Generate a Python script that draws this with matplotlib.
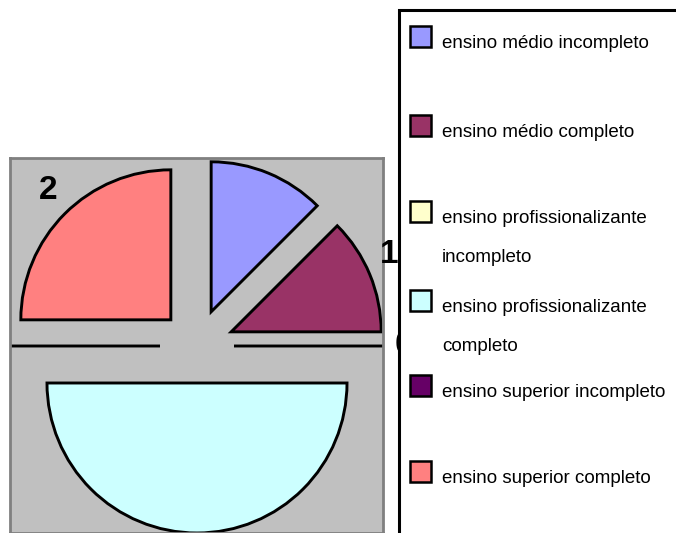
import numpy as np
import matplotlib.pyplot as plt
from matplotlib.patches import Rectangle
from matplotlib.transforms import Bbox, TransformedBbox

# data
categories = ['ensino médio incompleto',
              'ensino médio completo',
              'ensino profissionalizante\nincompleto',
              'ensino profissionalizante\ncompleto',
              'ensino superior incompleto',
              'ensino superior completo']
values = [1, 1, 0, 4, 0, 2]
colors = ['#9999FF', '#993366', '#FFFFCC', '#CCFFFF', '#660066', '#FF8080']

W, H = 676, 533
fig = plt.figure(figsize=(W / 100, H / 100), dpi=100)

# gray plot area, 1 data unit = 1 pixel
ax = fig.add_axes([10 / W, 0, 373 / W, 375 / H])
ax.set_facecolor('#C0C0C0')

wedges, _ = ax.pie(values, colors=colors, explode=[37] * len(values),
                   radius=150, center=(187, 187), startangle=90,
                   counterclock=False, normalize=True, frame=True,
                   wedgeprops=dict(edgecolor='black', linewidth=2.1))
ax.set_xlim(0, 373)
ax.set_ylim(0, 375)
ax.set_xticks([])
ax.set_yticks([])
for s in ax.spines.values():
    s.set_color('#808080')
    s.set_linewidth(2)

# data labels, clipped to the left part of the figure
clip = TransformedBbox(Bbox.from_extents(0, 0, 398 / W, 375 / H), fig.transFigure)
for w, v in zip(wedges, values):
    ang = np.deg2rad((w.theta1 + w.theta2) / 2)
    cx, cy = w.center
    R = 1.07 * w.r
    c, s = np.cos(ang), np.sin(ang)
    x, y = cx + R * c, cy + R * s
    if x < 0 or y < 0:
        continue  # outside the visible chart area
    ha = 'left' if c > 0.1 else ('right' if c < -0.1 else 'center')
    va = 'bottom' if s > 0.1 else ('top' if s < -0.1 else 'center')
    t = ax.text(x, y, str(v), ha=ha, va=va, fontsize=24,
                fontweight='bold', family='Liberation Sans', clip_on=True)
    t.set_clip_box(clip)

# legend box
lax = fig.add_axes([0, 0, 1, 1], zorder=5)
lax.set_xlim(0, W)
lax.set_ylim(H, 0)
lax.axis('off')
lax.patch.set_alpha(0)
lax.add_patch(Rectangle((399, 10), 400, 600, facecolor='white',
                        edgecolor='black', linewidth=2.2))

legend_rows_px = [48, 137, 223, 312, 397, 483]
for name, col, base in zip(categories, colors, legend_rows_px):
    lax.add_patch(Rectangle((410, base - 22), 21, 21, facecolor=col,
                            edgecolor='black', linewidth=1.8))
    for k, line in enumerate(name.split('\n')):
        lax.text(442, base + 39 * k, line, fontsize=13.5, family='Liberation Sans',
                 va='baseline', ha='left')

fig.savefig('out.png', dpi=100)
